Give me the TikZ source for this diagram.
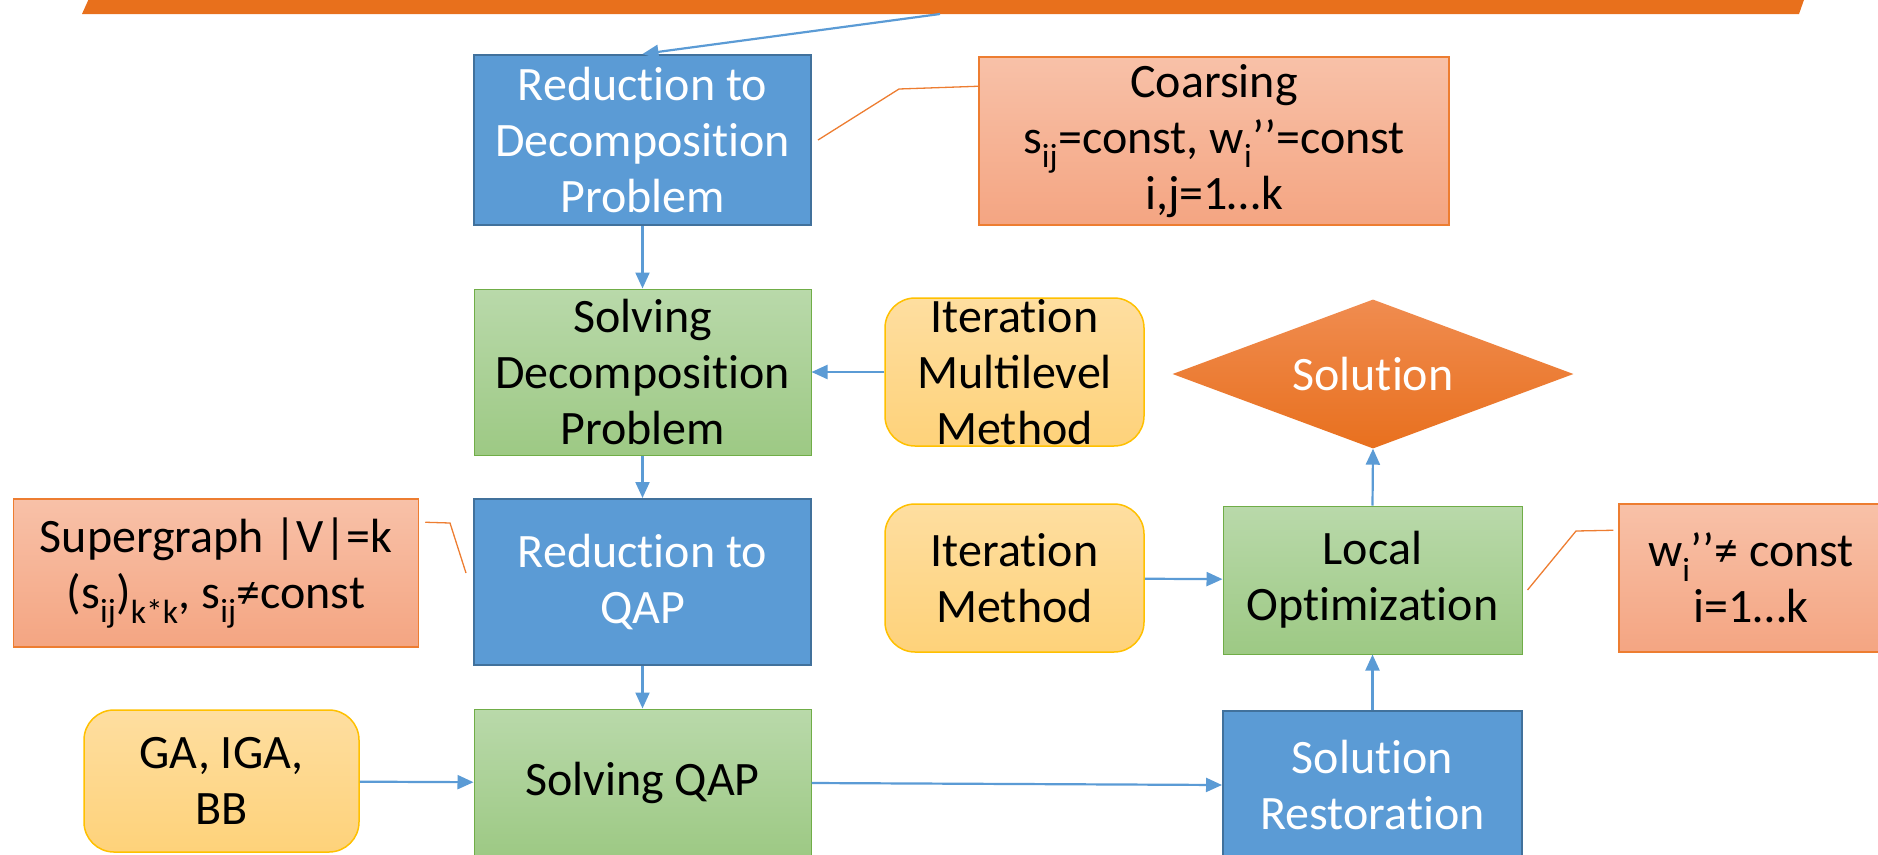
\documentclass[tikz,border=0pt]{standalone}
\usepackage{fontspec}
\setmainfont{Carlito}
\usetikzlibrary{arrows.meta,shapes.geometric}

% t and i kept apart (no ligature)
\newcommand{\tnoi}{t\kern0pt i}

\definecolor{boxblue}{HTML}{5B9BD5}
\definecolor{blueline}{HTML}{41719C}
\definecolor{greentop}{HTML}{B9D9AA}
\definecolor{greenbot}{HTML}{9DC984}
\definecolor{greenline}{HTML}{70AD47}
\definecolor{peachtop}{HTML}{F8C1A8}
\definecolor{peachbot}{HTML}{F4A582}
\definecolor{peachline}{HTML}{ED7D31}
\definecolor{yellowtop}{HTML}{FEDEA0}
\definecolor{yellowbot}{HTML}{FED27A}
\definecolor{yellowline}{HTML}{FFC000}
\definecolor{soltop}{HTML}{F08C50}
\definecolor{solbot}{HTML}{E8701E}
\definecolor{bannerorange}{HTML}{E8701C}

\tikzset{
  base/.style={rectangle, align=center, inner sep=0pt, font=\fontsize{48}{56}\selectfont},
  bluebox/.style={base, fill=boxblue, draw=blueline, line width=2pt, text=white},
  greenbox/.style={base, top color=greentop, bottom color=greenbot, draw=greenline, line width=1pt},
  notebox/.style={base, top color=peachtop, bottom color=peachbot, draw=peachline, line width=1.5pt},
  methodbox/.style={base, rounded corners=30pt, top color=yellowtop, bottom color=yellowbot, draw=yellowline, line width=1.5pt},
  flow/.style={draw=boxblue, line width=2.2pt, -{Triangle[length=16pt,width=14pt]}},
  callout/.style={draw=peachline, line width=1.3pt}
}

\begin{document}
\begin{tikzpicture}[x=1pt,y=-1pt]
	\useasboundingbox (0,0) rectangle (1878,854);
	% banner on top
	\fill[bannerorange] (91,-6) -- (1806,-6) -- (1799,14) -- (82,14) -- cycle;
	\coordinate (bannerout) at (940,14);

	% main column
	\node[bluebox, minimum width=337pt, minimum height=170pt] (reddecomp) at (642.5,140) {Reduc\tnoi on to\\Decomposi\tnoi on\\Problem};
	\node[greenbox, minimum width=337pt, minimum height=166pt] (solvdecomp) at (642.5,372) {Solving\\Decomposi\tnoi on\\Problem};
	\node[bluebox, minimum width=337pt, minimum height=166pt] (redqap) at (642.5,582) {Reduc\tnoi on to\\QAP};
	\node[greenbox, minimum width=337pt, minimum height=148pt] (solvqap) at (642.5,783) {Solving QAP};

	% notes and methods
	\node[notebox, minimum width=470pt, minimum height=168pt] (coarse) at (1214,141) {Coarsing\\s\textsubscript{ij}=const, w\textsubscript{i}’’=const\\i,j=1…k};
	\node[notebox, minimum width=405pt, minimum height=148pt] (super) at (216,573) {Supergraph |V|=k\\(s\textsubscript{ij})\textsubscript{k*k}, s\textsubscript{ij}≠const};
	\node[notebox, minimum width=264pt, minimum height=148pt] (wconst) at (1751,578) {w\textsubscript{i}’’≠ const\\i=1…k};
	\node[methodbox, minimum width=259pt, minimum height=148pt] (multilevel) at (1014.5,372) {Itera\tnoi on\\Multilevel\\Method};
	\node[methodbox, minimum width=259pt, minimum height=148pt] (iteration) at (1014.5,578) {Itera\tnoi on\\Method};
	\node[methodbox, minimum width=275pt, minimum height=142pt] (ga) at (221.5,781) {GA, IGA,\\BB};

	% right column
	\node[diamond, shape aspect=2.7, minimum width=401pt, minimum height=149pt, inner sep=0pt,
		top color=soltop, bottom color=solbot, text=white, font=\fontsize{48}{56}\selectfont] (solution) at (1373,374) {Solu\tnoi on};
	\node[greenbox, minimum width=299pt, minimum height=148pt] (localopt) at (1372.5,580) {Local\\Op\tnoi miza\tnoi on};
	\node[bluebox, minimum width=299pt, minimum height=148pt] (restore) at (1372.5,785) {Solu\tnoi on\\Restora\tnoi on};

	% flow arrows
	\draw[flow] (bannerout) -- (reddecomp.north);
	\draw[flow] (reddecomp) -- (solvdecomp);
	\draw[flow] (solvdecomp) -- (redqap);
	\draw[flow] (redqap) -- (solvqap);
	\draw[flow] (multilevel) -- (solvdecomp);
	\draw[flow] (ga) -- (solvqap);
	\draw[flow] (solvqap.east) -- (restore.west);
	\draw[flow] (restore) -- (localopt);
	\draw[flow] (iteration) -- (localopt);
	\draw[flow] (localopt.north) -- (solution.south);

	% callouts
	\draw[callout] ([xshift=6pt]reddecomp.east) -- (899,89) -- ([yshift=-30pt]coarse.north west);
	\draw[callout] ([xshift=-7pt,yshift=9pt]redqap.west) -- (450,523) -- ([xshift=6pt,yshift=-24pt]super.north east);
	\draw[callout] ([xshift=5pt,yshift=-10pt]localopt.east) -- (1576,531) -- ([xshift=-5pt,yshift=-27pt]wconst.north west);
\end{tikzpicture}
\end{document}
